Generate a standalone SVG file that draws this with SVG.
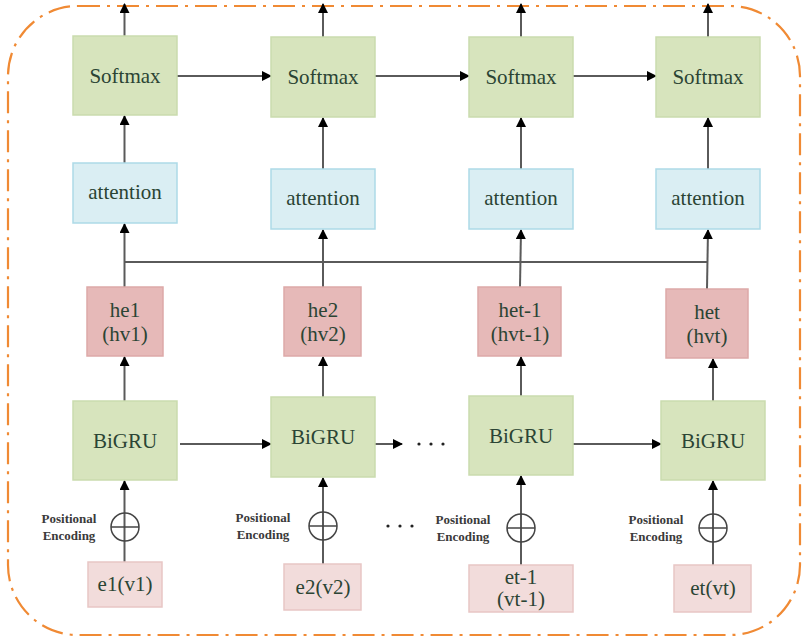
<svg xmlns="http://www.w3.org/2000/svg" width="803" height="641" viewBox="0 0 803 641">
<defs>
<marker id="ah" viewBox="0 0 10 10" refX="9" refY="5" markerWidth="10" markerHeight="10" markerUnits="userSpaceOnUse" orient="auto">
<path d="M0,0 L10,5 L0,10 z" fill="#000"/>
</marker>
<style>
.sm{fill:#D7E4BD;stroke:#CADBAE;stroke-width:1.5}
.at{fill:#DAEEF3;stroke:#ADDAE7;stroke-width:1.5}
.he{fill:#E6B9B8;stroke:#DDA9A8;stroke-width:1.5}
.e{fill:#F2DCDB;stroke:#E8C6C5;stroke-width:1.5}
.t{font-size:21px;fill:#2B4434;text-anchor:middle}
.pe{font-size:13px;font-weight:bold;fill:#3a3a3a;text-anchor:middle}
.c{stroke:#5A5A5A;stroke-width:2;fill:none}
.ca{stroke:#5A5A5A;stroke-width:2;fill:none;marker-end:url(#ah)}
.pl{stroke:#444;stroke-width:1.5;fill:none}
.dot{fill:#222}
</style>
</defs>
<rect x="8" y="6" width="792" height="629" rx="70" ry="70" fill="none" stroke="#F08A34" stroke-width="2.2" stroke-dasharray="22 7 3 7"/>

<g id="connectors">
<line class="ca" x1="124.5" y1="36" x2="124.5" y2="4"/>
<line class="ca" x1="323" y1="37" x2="323" y2="4"/>
<line class="ca" x1="521" y1="37" x2="521" y2="4"/>
<line class="ca" x1="708" y1="37" x2="708" y2="4"/>
<line class="ca" x1="177" y1="76" x2="271" y2="76"/>
<line class="ca" x1="375" y1="76" x2="469" y2="76"/>
<line class="ca" x1="573" y1="76" x2="656" y2="76"/>
<line class="ca" x1="124.5" y1="163" x2="124.5" y2="116"/>
<line class="ca" x1="323" y1="169" x2="323" y2="118"/>
<line class="ca" x1="521" y1="169" x2="521" y2="118"/>
<line class="ca" x1="708" y1="169" x2="708" y2="118"/>
<line class="ca" x1="124.5" y1="287" x2="124.5" y2="224"/>
<line class="ca" x1="323" y1="287" x2="323" y2="230"/>
<line class="ca" x1="520" y1="287" x2="521" y2="230"/>
<line class="ca" x1="707" y1="289" x2="708" y2="230"/>
<line class="c" x1="124.5" y1="262" x2="707" y2="262"/>
<line class="ca" x1="124.5" y1="401" x2="124.5" y2="357"/>
<line class="ca" x1="323" y1="397" x2="323" y2="357"/>
<line class="ca" x1="521" y1="396" x2="521" y2="357"/>
<line class="ca" x1="713" y1="401" x2="713" y2="359"/>
<line class="ca" x1="180" y1="444" x2="271" y2="444"/>
<line class="ca" x1="375" y1="444" x2="402" y2="444"/>
<line class="ca" x1="573" y1="444" x2="661" y2="444"/>
<line class="ca" x1="124.5" y1="562" x2="124.5" y2="481"/>
<line class="ca" x1="323" y1="564" x2="323" y2="478"/>
<line class="ca" x1="521" y1="565" x2="521" y2="476"/>
<line class="ca" x1="713" y1="565" x2="713" y2="481"/>
</g>

<g font-family="'Liberation Serif', 'Times New Roman', 'DejaVu Serif', serif">
<g id="pe1"><circle class="pl" cx="125" cy="527" r="14"/><line class="pl" x1="111" y1="527" x2="139" y2="527"/><text class="pe" x="69" y="523">Positional</text><text class="pe" x="69" y="540">Encoding</text></g>
<g id="pe2"><circle class="pl" cx="323" cy="526" r="14"/><line class="pl" x1="309" y1="526" x2="337" y2="526"/><text class="pe" x="263" y="522">Positional</text><text class="pe" x="263" y="539">Encoding</text></g>
<g id="pe3"><circle class="pl" cx="521" cy="528" r="14"/><line class="pl" x1="507" y1="528" x2="535" y2="528"/><text class="pe" x="463" y="524">Positional</text><text class="pe" x="463" y="541">Encoding</text></g>
<g id="pe4"><circle class="pl" cx="713" cy="528" r="14"/><line class="pl" x1="699" y1="528" x2="727" y2="528"/><text class="pe" x="656" y="524">Positional</text><text class="pe" x="656" y="541">Encoding</text></g>

<g id="ellipsis1"><circle class="dot" cx="419" cy="444" r="1.6"/><circle class="dot" cx="431" cy="444" r="1.6"/><circle class="dot" cx="443" cy="444" r="1.6"/></g>
<g id="ellipsis2"><circle class="dot" cx="388" cy="526" r="1.6"/><circle class="dot" cx="400" cy="526" r="1.6"/><circle class="dot" cx="412" cy="526" r="1.6"/></g>

<g id="softmax1"><rect class="sm" x="73" y="36" width="104" height="79"/><text class="t" x="125" y="83">Softmax</text></g>
<g id="softmax2"><rect class="sm" x="271" y="37" width="104" height="80"/><text class="t" x="323" y="84">Softmax</text></g>
<g id="softmax3"><rect class="sm" x="469" y="37" width="104" height="80"/><text class="t" x="521" y="84">Softmax</text></g>
<g id="softmax4"><rect class="sm" x="656" y="37" width="104" height="80"/><text class="t" x="708" y="84">Softmax</text></g>

<g id="attention1"><rect class="at" x="73" y="163" width="104" height="60"/><text class="t" x="125" y="199">attention</text></g>
<g id="attention2"><rect class="at" x="271" y="169" width="104" height="60"/><text class="t" x="323" y="205">attention</text></g>
<g id="attention3"><rect class="at" x="469" y="169" width="104" height="60"/><text class="t" x="521" y="205">attention</text></g>
<g id="attention4"><rect class="at" x="656" y="169" width="104" height="60"/><text class="t" x="708" y="205">attention</text></g>

<g id="he1"><rect class="he" x="87" y="287" width="76" height="69"/><text class="t" x="125" y="317">he1</text><text class="t" x="125" y="341">(hv1)</text></g>
<g id="he2"><rect class="he" x="284" y="287" width="77" height="69"/><text class="t" x="323" y="317">he2</text><text class="t" x="323" y="341">(hv2)</text></g>
<g id="het-1"><rect class="he" x="478" y="287" width="83" height="69"/><text class="t" x="520" y="317">het-1</text><text class="t" x="520" y="341">(hvt-1)</text></g>
<g id="het"><rect class="he" x="666" y="289" width="82" height="69"/><text class="t" x="707" y="319">het</text><text class="t" x="707" y="343">(hvt)</text></g>

<g id="bigru1"><rect class="sm" x="73" y="401" width="104" height="79"/><text class="t" x="125" y="448">BiGRU</text></g>
<g id="bigru2"><rect class="sm" x="271" y="397" width="104" height="80"/><text class="t" x="323" y="444">BiGRU</text></g>
<g id="bigru3"><rect class="sm" x="469" y="396" width="104" height="79"/><text class="t" x="521" y="443">BiGRU</text></g>
<g id="bigru4"><rect class="sm" x="661" y="401" width="104" height="79"/><text class="t" x="713" y="448">BiGRU</text></g>

<g id="e1"><rect class="e" x="88" y="562" width="74" height="45"/><text class="t" x="125" y="591">e1(v1)</text></g>
<g id="e2"><rect class="e" x="284" y="564" width="77" height="46"/><text class="t" x="323" y="594">e2(v2)</text></g>
<g id="et-1"><rect class="e" x="469" y="565" width="104" height="47"/><text class="t" x="521" y="584">et-1</text><text class="t" x="521" y="606">(vt-1)</text></g>
<g id="et"><rect class="e" x="674" y="565" width="77" height="47"/><text class="t" x="713" y="595">et(vt)</text></g>
</g>
</svg>
